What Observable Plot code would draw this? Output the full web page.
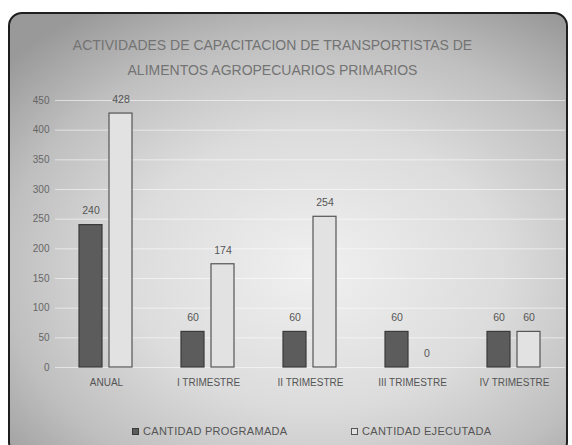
<!DOCTYPE html>
<html>
<head>
<meta charset="utf-8">
<script src="https://cdn.jsdelivr.net/npm/d3@7"></script>
<script src="https://cdn.jsdelivr.net/npm/@observablehq/plot@0.6"></script>
<style>
  body { margin: 0; background: #fff; font-family: "Liberation Sans", sans-serif; }
  #wrap { position: relative; width: 572px; height: 445px; overflow: hidden; background: #fff; }
  #box { position: absolute; left: 8px; top: 12px; width: 556px; height: 440px; border: 2px solid #1e1e1e; border-radius: 14px;
    background: radial-gradient(ellipse 75% 70% at 55% 58%, #f0f0f0 0%, #dcdcdc 45%, #bfbfbf 75%, #999 100%); }
  #title { position: absolute; left: 0; width: 545px; top: 33px; text-align: center; color: #737373; font-size: 14px; line-height: 25px; letter-spacing: 0px; }
  #chart { position: absolute; left: 0; top: 85px; }
  #legend { position: absolute; top: 425px; left: 0; width: 572px; font-size: 11px; color: #555; }
  .lg { position: absolute; top: 0; display: flex; align-items: center; gap: 4px; white-space: nowrap; letter-spacing: 0.3px; }
  .sw { width: 7px; height: 7px; box-sizing: border-box; }
</style>
</head>
<body>
<div id="wrap">
  <div id="box"></div>
  <div id="title">ACTIVIDADES DE CAPACITACION DE TRANSPORTISTAS DE<br>ALIMENTOS AGROPECUARIOS PRIMARIOS</div>
  <div id="chart"></div>
  <div id="legend"></div>
</div>
<script>
const categorias = ["ANUAL", "I TRIMESTRE", "II TRIMESTRE", "III TRIMESTRE", "IV TRIMESTRE"];
const programada = [240, 60, 60, 60, 60];
const ejecutada = [428, 174, 254, 0, 60];
const series = ["CANTIDAD PROGRAMADA", "CANTIDAD EJECUTADA"];
const yTicks = [0, 50, 100, 150, 200, 250, 300, 350, 400, 450];

const fills = {"CANTIDAD PROGRAMADA": "#5c5c5c", "CANTIDAD EJECUTADA": "#e2e2e2"};
const strokes = {"CANTIDAD PROGRAMADA": "#3a3a3a", "CANTIDAD EJECUTADA": "#555"};

const data = [];
categorias.forEach((c, i) => {
  data.push({cat: c, serie: series[0], val: programada[i]});
  data.push({cat: c, serie: series[1], val: ejecutada[i]});
});

const chart = Plot.plot({
  width: 572,
  height: 315,
  marginTop: 15,
  marginBottom: 33,
  marginLeft: 54,
  marginRight: 7,
  style: {background: "transparent", fontFamily: "'Liberation Sans', sans-serif", color: "#555"},
  fx: {domain: categorias, padding: 0, label: null},
  x: {domain: series, paddingInner: 0.233, paddingOuter: 0.8, axis: null},
  y: {domain: [0, 450], label: null},
  marks: [
    Plot.gridY(yTicks, {stroke: "#ffffff", strokeOpacity: 0.55}),
    Plot.axisY(yTicks, {tickSize: 0, tickPadding: 6, fontSize: 10, fill: "#666", label: null}),
    Plot.axisFx({anchor: "bottom", tickSize: 0, tickPadding: 11, fontSize: 10, fill: "#555", label: null}),
    Plot.barY(data.filter(d => d.val > 0), {fx: "cat", x: "serie", y: "val",
      fill: d => fills[d.serie], stroke: d => strokes[d.serie], strokeWidth: 1.2}),
    Plot.text(data, {fx: "cat", x: "serie", y: "val", text: d => String(d.val), dy: -14, fontSize: 10.5, fill: "#555"})
  ]
});
document.getElementById("chart").appendChild(chart);

const legend = document.getElementById("legend");
const pos = [132, 351];
series.forEach((s, i) => {
  const item = document.createElement("div");
  item.className = "lg";
  item.style.left = pos[i] + "px";
  const sw = document.createElement("div");
  sw.className = "sw";
  sw.style.background = fills[s];
  sw.style.border = "1px solid " + strokes[s];
  const t = document.createElement("span");
  t.textContent = s;
  item.appendChild(sw);
  item.appendChild(t);
  legend.appendChild(item);
});
</script>
</body>
</html>
